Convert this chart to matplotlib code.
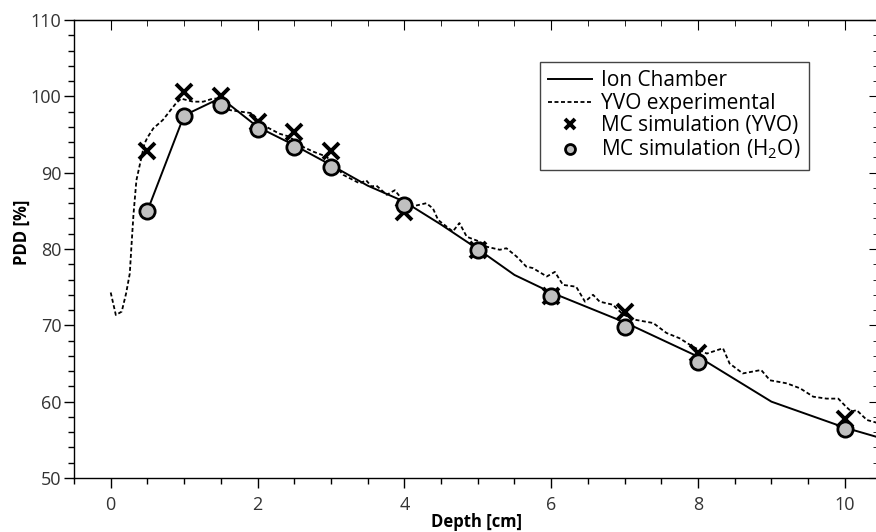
import matplotlib
matplotlib.use("Agg")
import matplotlib.pyplot as plt
from matplotlib.ticker import MultipleLocator

# ---- data ----
ion_depth = [0.5, 1.0, 1.5, 2.0, 2.5, 3.0, 3.5, 4.0, 4.5, 5.0, 5.5, 6.0, 7.0, 8.0, 9.0, 10.0, 10.5]
ion_pdd = [85.0, 97.5, 99.8, 96.0, 93.6, 91.0, 88.3, 86.2, 83.2, 80.0, 76.6, 74.3, 70.4, 65.9, 60.0, 56.6, 55.2]

yvo_depth = [0.0, 0.07, 0.15, 0.21, 0.26, 0.28, 0.31, 0.35, 0.40, 0.46, 0.50, 0.58, 0.71, 0.80, 0.89,
             0.96, 1.12, 1.26, 1.39, 1.51, 1.62, 1.76, 1.92, 1.99, 2.12, 2.30, 2.44, 2.57, 2.76, 2.94,
             3.17, 3.39, 3.48, 3.55, 3.62, 3.76, 3.87, 3.94, 4.07, 4.30, 4.39, 4.46, 4.66, 4.75, 4.85,
             5.03, 5.12, 5.30, 5.39, 5.53, 5.66, 5.75, 5.94, 6.05, 6.16, 6.34, 6.46, 6.57, 6.66, 6.84,
             6.98, 7.16, 7.39, 7.57, 7.75, 7.93, 8.12, 8.34, 8.43, 8.61, 8.86, 8.98, 9.21, 9.39, 9.57,
             9.75, 9.91, 10.02, 10.09, 10.16, 10.30, 10.45]
yvo_pdd = [74.3, 71.35, 71.8, 74.2, 76.8, 80.0, 84.5, 89.0, 91.2, 93.8, 94.6, 95.8, 96.9, 98.0, 99.1,
           99.7, 99.3, 99.3, 99.7, 99.7, 98.2, 98.0, 97.8, 97.1, 96.0, 95.1, 94.7, 93.6, 92.75, 92.1,
           89.7, 88.6, 89.0, 88.2, 88.3, 87.1, 87.7, 86.85, 85.5, 86.0, 85.3, 83.8, 82.3, 83.4, 81.6,
           80.95, 80.3, 79.9, 80.1, 79.0, 77.7, 77.5, 76.4, 77.0, 75.3, 75.06, 73.1, 74.0, 73.1, 72.7,
           71.4, 70.7, 70.3, 69.0, 68.3, 67.2, 66.3, 67.0, 65.0, 63.7, 64.15, 62.8, 62.4, 61.75, 60.65,
           60.4, 60.4, 59.3, 58.7, 58.9, 57.6, 57.2]

mc_yvo_depth = [0.5, 1.0, 1.5, 2.0, 2.5, 3.0, 4.0, 5.0, 6.0, 7.0, 8.0, 10.0]
mc_yvo_pdd = [92.9, 100.6, 100.1, 96.6, 95.3, 92.8, 84.9, 79.9, 73.9, 71.7, 66.4, 57.7]

mc_h2o_depth = [0.5, 1.0, 1.5, 2.0, 2.5, 3.0, 4.0, 5.0, 6.0, 7.0, 8.0, 10.0]
mc_h2o_pdd = [85.0, 97.4, 98.9, 95.7, 93.4, 90.7, 85.8, 79.9, 73.8, 69.8, 65.2, 56.4]

labels = ["Ion Chamber", "YVO experimental", "MC simulation (YVO)", "MC simulation (H$_2$O)"]

plt.rcParams['font.family'] = ['Open Sans', 'DejaVu Sans']
plt.rcParams['mathtext.fontset'] = 'custom'
plt.rcParams['mathtext.rm'] = 'Open Sans'
plt.rcParams['mathtext.it'] = 'Open Sans'

fig = plt.figure(figsize=(8.76, 5.32), dpi=100)
W, H = 876, 532
ax = fig.add_axes([74 / W, 54 / H, (879 - 74) / W, (478 - 20) / H])

l1, = ax.plot(ion_depth, ion_pdd, color='black', lw=1.4, zorder=2)
l2, = ax.plot(yvo_depth, yvo_pdd, color='black', lw=1.3, linestyle=(0, (2.2, 1.4)), zorder=2)
l3, = ax.plot(mc_yvo_depth, mc_yvo_pdd, linestyle='none', marker='x', color='black',
              markersize=12, markeredgewidth=2.8, zorder=3)
l4, = ax.plot(mc_h2o_depth, mc_h2o_pdd, linestyle='none', marker='o', markerfacecolor='#c0c0c0',
              markeredgecolor='black', markersize=11, markeredgewidth=2.0, zorder=4)

ax.set_xlim(-0.5, 10.465)
ax.set_ylim(50, 110)
ax.xaxis.set_major_locator(MultipleLocator(2))
ax.xaxis.set_minor_locator(MultipleLocator(0.5))
ax.yaxis.set_major_locator(MultipleLocator(10))
ax.yaxis.set_minor_locator(MultipleLocator(2))

ax.tick_params(axis='x', which='both', direction='out', bottom=True, top=False,
               labelsize=13, labelcolor='#333333', pad=6)
ax.tick_params(axis='y', which='both', direction='out', left=True, right=False,
               labelsize=13, labelcolor='#333333', pad=2)
ax.tick_params(which='major', length=7, width=1.0)
ax.tick_params(which='minor', length=4, width=1.0)

# inward ticks on top and right
axt = ax.secondary_xaxis('top')
axt.xaxis.set_major_locator(MultipleLocator(2))
axt.xaxis.set_minor_locator(MultipleLocator(0.5))
axt.tick_params(which='both', direction='in', labeltop=False)
axt.tick_params(which='major', length=7)
axt.tick_params(which='minor', length=4)
axr = ax.secondary_yaxis('right')
axr.yaxis.set_major_locator(MultipleLocator(10))
axr.yaxis.set_minor_locator(MultipleLocator(2))
axr.tick_params(which='both', direction='in', labelright=False)
axr.tick_params(which='major', length=7)
axr.tick_params(which='minor', length=4)

for s in ax.spines.values():
    s.set_linewidth(1.0)

ax.set_xlabel("Depth [cm]", fontsize=12, fontweight='bold')
ax.set_ylabel("PDD [%]", fontsize=12, fontweight='bold')
ax.xaxis.set_label_coords(0.5, -0.077)
ax.yaxis.set_label_coords(-0.054, 0.537)

leg = ax.legend([l1, l2, l3, l4], labels, loc='upper right', bbox_to_anchor=(0.913, 0.908),
                borderaxespad=0, fontsize=15, frameon=True, fancybox=False, framealpha=1,
                edgecolor='#444444', markerscale=0.65, handlelength=2.1, handletextpad=0.45,
                labelspacing=0.07, borderpad=0.4)
leg.get_frame().set_linewidth(1.0)

fig.savefig("out.png", dpi=100)
